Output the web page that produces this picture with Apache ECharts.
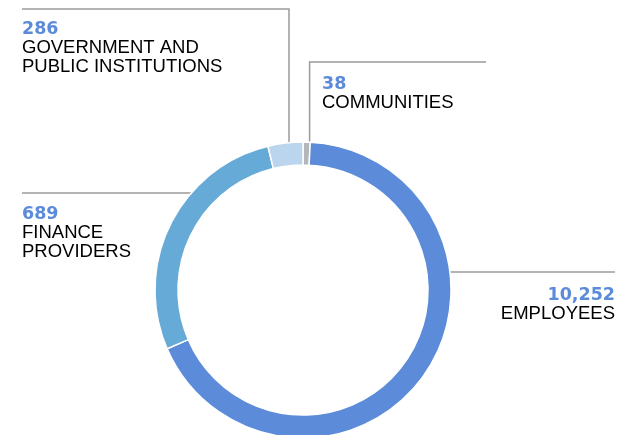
<!DOCTYPE html>
<html>
<head>
<meta charset="utf-8">
<script src="https://cdn.jsdelivr.net/npm/echarts@6/dist/echarts.min.js"></script>
<style>
  html, body { margin: 0; padding: 0; background: #fff; }
  #chart { width: 621px; height: 435px; }
</style>
</head>
<body>
<div id="chart"></div>
<script>
// clockwise from 12 o'clock
const categories = ['COMMUNITIES', 'EMPLOYEES', 'FINANCE\nPROVIDERS', 'GOVERNMENT AND\nPUBLIC INSTITUTIONS']
const displayValues = [38, 10252, 689, 286]
// arc of each slice as drawn in the picture (degrees) - not proportional to the numbers
const sliceShares = [2.8, 243.8, 99.7, 13.7]
const colors = ['#b4b7ba', '#5b8bd9', '#66aad8', '#bbd5ee']

const cx = 303
const cy = 290
const rOuter = 148
const rInner = 125

// where each label and its leader line sit
const labelSpots = [
  { x: 322, y: 74, align: 'left', vx: 309.6, ly: 62, ex: 486 },
  { x: 615, y: 285, align: 'right', side: 1, ly: 272, ex: 615 },
  { x: 22, y: 204, align: 'left', side: -1, ly: 193, ex: 22 },
  { x: 22, y: 19, align: 'left', vx: 289, ly: 9, ex: 22 },
]

function ringY(x) {
  const dx = x - cx
  return cy - Math.sqrt(rOuter * rOuter - dx * dx)
}

function ringX(y, side) {
  const dy = y - cy
  return cx + side * Math.sqrt(rOuter * rOuter - dy * dy)
}

const chart = echarts.init(document.getElementById('chart'))

chart.setOption({
  backgroundColor: '#fff',
  animation: false,
  textStyle: { fontFamily: 'Liberation Sans, Arial, sans-serif' },
  series: [
    {
      type: 'pie',
      center: [cx, cy],
      radius: [rInner, rOuter],
      startAngle: 90,
      clockwise: true,
      avoidLabelOverlap: false,
      itemStyle: { borderColor: '#fff', borderWidth: 1.5 },
      label: {
        show: true,
        formatter: (p) => {
          const num = displayValues[p.dataIndex].toLocaleString('en-US')
          const lines = categories[p.dataIndex].split('\n').map((s) => `{n|${s}}`)
          return `{v|${num}}\n` + lines.join('\n')
        },
        rich: {
          v: { fontSize: 17.5, fontWeight: 'bold', color: '#5b8bd9', lineHeight: 20, fontFamily: 'DejaVu Sans' },
          n: { fontSize: 18.5, color: '#000', lineHeight: 18.5, fontFamily: 'Liberation Sans' },
        },
      },
      labelLine: {
        show: true,
        lineStyle: { color: '#9a9a9a', width: 1.5 },
      },
      labelLayout: (params) => {
        const s = labelSpots[params.dataIndex]
        let pts
        if (s.vx !== undefined) {
          pts = [[s.vx, ringY(s.vx)], [s.vx, s.ly], [s.ex, s.ly]]
        } else {
          const sx = ringX(s.ly, s.side)
          pts = [[sx, s.ly], [(sx + s.ex) / 2, s.ly], [s.ex, s.ly]]
        }
        return {
          x: s.x,
          y: s.y,
          align: s.align,
          verticalAlign: 'top',
          labelLinePoints: pts,
        }
      },
      emphasis: { disabled: true },
      data: categories.map((name, i) => ({
        name,
        value: sliceShares[i],
        itemStyle: { color: colors[i] },
      })),
    },
  ],
})
</script>
</body>
</html>
